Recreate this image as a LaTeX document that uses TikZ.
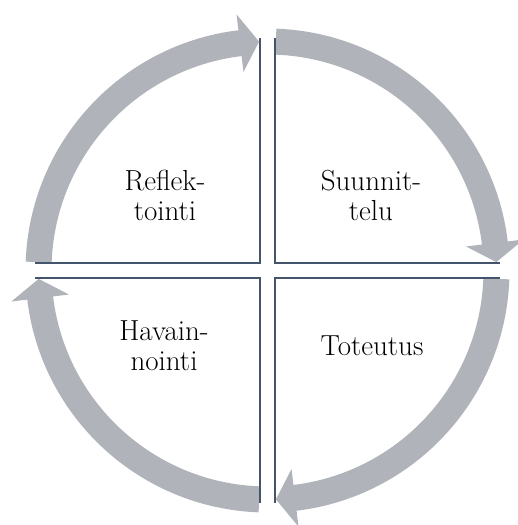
\documentclass[tikz,border=0pt]{standalone}
\usepackage{fontspec}
\definecolor{arrowgray}{RGB}{176,179,185}
\definecolor{slate}{RGB}{68,84,106}
\begin{document}
\begin{tikzpicture}[x=1pt,y=1pt,
  cyc/.style={fill=arrowgray},
  qline/.style={draw=slate,line width=2pt},
  lbl/.style={align=center,font=\fontsize{29}{30}\selectfont,inner sep=0pt}]
\useasboundingbox (0,0) rectangle (518,525);
% cycle arrows
\begin{scope}[shift={(267.5,254.5)}]
\foreach \k in {0,1,2,3} {
  \pgfmathsetmacro\a{177.9-90*\k}
  \pgfmathsetmacro\b{96.9-90*\k}
  \pgfmathsetmacro\t{92.1-90*\k}
  \fill[cyc] (\a:242pt) arc[start angle=\a,end angle=\b,radius=242pt]
     -- (\b:258pt) -- (\t:229pt) -- (\b:200pt) -- (\b:216pt)
     arc[start angle=\b,end angle=\a,radius=216pt] -- cycle;
}
\end{scope}
% quadrant borders
\draw[qline] (35,262) -- (260,262) -- (260,487);
\draw[qline] (275,487) -- (275,262) -- (500,262);
\draw[qline] (35,247) -- (260,247) -- (260,22);
\draw[qline] (275,22) -- (275,247) -- (500,247);
% labels
\node[lbl] (refl) at (165,330) {Reflek-\\tointi};
\node[lbl] (suun) at (371,330) {Suunnit-\\telu};
\node[lbl] (hav) at (164,179) {Havain-\\nointi};
\node[lbl] (tot) at (372,179) {Toteutus};
\end{tikzpicture}
\end{document}
